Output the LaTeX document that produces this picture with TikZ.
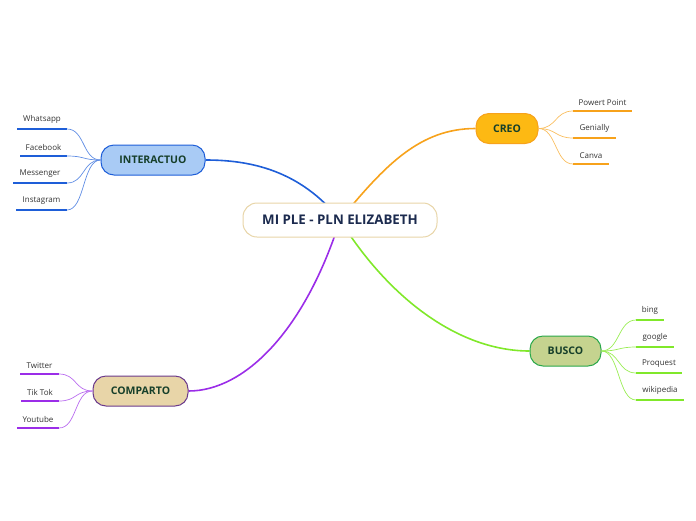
\documentclass[tikz,border=0pt]{standalone}
\usepackage{fontspec}
\setmainfont{Open Sans}
\usetikzlibrary{backgrounds,calc}
\definecolor{cblue}{HTML}{1E5ED8}
\definecolor{cbluefill}{HTML}{A9CBF5}
\definecolor{corange}{HTML}{F7A21B}
\definecolor{corangefill}{HTML}{FDB913}
\definecolor{cgreen}{HTML}{80E82A}
\definecolor{cgreenborder}{HTML}{2BA84A}
\definecolor{cgreenfill}{HTML}{C5D38F}
\definecolor{cpurple}{HTML}{9B2DE8}
\definecolor{cpurpleborder}{HTML}{6B3A8C}
\definecolor{ctanfill}{HTML}{E8D5A8}
\definecolor{ctext}{HTML}{163F2A}
\definecolor{cnavy}{HTML}{1B2A4E}
\definecolor{cleaf}{HTML}{333333}
\tikzset{
  x=1pt, y=-1pt,
  centralbox/.style={draw=ctanfill, fill=white, line width=1pt, rounded corners=14pt,
    minimum width=194pt, minimum height=34pt, font=\fontsize{13.3}{15}\selectfont\bfseries, text=cnavy},
  branchbox/.style={line width=1pt, rounded corners=13pt, minimum height=30pt,
    font=\fontsize{10.5}{13}\selectfont\bfseries, text=ctext},
  leaftext/.style={font=\fontsize{8}{10}\selectfont, text=cleaf, inner sep=1pt},
  mainlink/.style={line width=1.6pt},
  leaflink/.style={line width=0.7pt},
  uline/.style={line width=2pt},
}
\begin{document}
\begin{tikzpicture}
\useasboundingbox (0,0) rectangle (696,520);
% nodes
\node[centralbox] (center) at (340,220) {MI PLE - PLN ELIZABETH};
\node[branchbox, draw=cblue, fill=cbluefill, minimum width=104pt] (inter) at (153,160) {INTERACTUO};
\node[branchbox, draw=corange, fill=corangefill, minimum width=62pt] (creo) at (507,128.5) {CREO};
\node[branchbox, draw=cgreenborder, fill=cgreenfill, minimum width=71pt] (busco) at (565.5,351) {BUSCO};
\node[branchbox, draw=cpurpleborder, fill=ctanfill, minimum width=95pt] (comp) at (140.5,391) {COMPARTO};
% underline coordinates
\coordinate (wa1) at (17,129); \coordinate (wa2) at (67,129);
\coordinate (fb1) at (20,156); \coordinate (fb2) at (67,156);
\coordinate (ms1) at (13,183); \coordinate (ms2) at (67,183);
\coordinate (ig1) at (16,210); \coordinate (ig2) at (67,210);
\coordinate (pp1) at (573,111); \coordinate (pp2) at (632,111);
\coordinate (ge1) at (573,138); \coordinate (ge2) at (616,138);
\coordinate (ca1) at (573,164); \coordinate (ca2) at (609,164);
\coordinate (bi1) at (636,320); \coordinate (bi2) at (664,320);
\coordinate (go1) at (636,347); \coordinate (go2) at (674,347);
\coordinate (pq1) at (636,373); \coordinate (pq2) at (682,373);
\coordinate (wk1) at (636,400); \coordinate (wk2) at (684,400);
\coordinate (tw1) at (20,374); \coordinate (tw2) at (59,374);
\coordinate (tt1) at (21,401); \coordinate (tt2) at (59,401);
\coordinate (yt1) at (17,428); \coordinate (yt2) at (59,428);
% leaf texts
\node[leaftext, anchor=south] (twa) at ($(wa1)!0.5!(wa2)+(0,-4.5)$) {Whatsapp};
\node[leaftext, anchor=south] (tfb) at ($(fb1)!0.5!(fb2)+(0,-4.5)$) {Facebook};
\node[leaftext, anchor=south] (tms) at ($(ms1)!0.5!(ms2)+(0,-4.5)$) {Messenger};
\node[leaftext, anchor=south] (tig) at ($(ig1)!0.5!(ig2)+(0,-4.5)$) {Instagram};
\node[leaftext, anchor=south] (tpp) at ($(pp1)!0.5!(pp2)+(0,-4.5)$) {Powert Point};
\node[leaftext, anchor=south] (tge) at ($(ge1)!0.5!(ge2)+(0,-4.5)$) {Genially};
\node[leaftext, anchor=south] (tca) at ($(ca1)!0.5!(ca2)+(0,-4.5)$) {Canva};
\node[leaftext, anchor=south] (tbi) at ($(bi1)!0.5!(bi2)+(0,-4.5)$) {bing};
\node[leaftext, anchor=south] (tgo) at ($(go1)!0.5!(go2)+(0,-4.5)$) {google};
\node[leaftext, anchor=south] (tpq) at ($(pq1)!0.5!(pq2)+(0,-4.5)$) {Proquest};
\node[leaftext, anchor=south] (twk) at ($(wk1)!0.5!(wk2)+(0,-4.5)$) {wikipedia};
\node[leaftext, anchor=south] (ttw) at ($(tw1)!0.5!(tw2)+(0,-4.5)$) {Twitter};
\node[leaftext, anchor=south] (ttt) at ($(tt1)!0.5!(tt2)+(0,-4.5)$) {Tik Tok};
\node[leaftext, anchor=south] (tyt) at ($(yt1)!0.5!(yt2)+(0,-4.5)$) {Youtube};
% connectors
\begin{pgfonlayer}{background}
\draw[mainlink, cblue] (center.center) .. controls (300,170) and (250,160) .. (inter.east);
\draw[mainlink, corange] (center.center) .. controls (385,165) and (420,128.5) .. (creo.west);
\draw[mainlink, cgreen] (center.center) .. controls (390,300) and (460,351) .. (busco.west);
\draw[mainlink, cpurple] (center.center) .. controls (305,330) and (245,391) .. (comp.east);
\end{pgfonlayer}
% underlines
\draw[uline, cblue] (wa1) -- (wa2); \draw[uline, cblue] (fb1) -- (fb2);
\draw[uline, cblue] (ms1) -- (ms2); \draw[uline, cblue] (ig1) -- (ig2);
\draw[uline, corange] (pp1) -- (pp2); \draw[uline, corange] (ge1) -- (ge2);
\draw[uline, corange] (ca1) -- (ca2);
\draw[uline, cgreen] (bi1) -- (bi2); \draw[uline, cgreen] (go1) -- (go2);
\draw[uline, cgreen] (pq1) -- (pq2); \draw[uline, cgreen] (wk1) -- (wk2);
\draw[uline, cpurple] (tw1) -- (tw2); \draw[uline, cpurple] (tt1) -- (tt2);
\draw[uline, cpurple] (yt1) -- (yt2);
% leaf links
\foreach \u in {wa2,fb2,ms2,ig2}
  \draw[leaflink, cblue!70] (inter.west) .. controls ($(inter.west)+(-18,0)$) and ($(\u)+(18,0)$) .. (\u);
\foreach \u in {pp1,ge1,ca1}
  \draw[leaflink, corange!70] (creo.east) .. controls ($(creo.east)+(18,0)$) and ($(\u)+(-18,0)$) .. (\u);
\foreach \u in {bi1,go1,pq1,wk1}
  \draw[leaflink, cgreen!80] (busco.east) .. controls ($(busco.east)+(18,0)$) and ($(\u)+(-18,0)$) .. (\u);
\foreach \u in {tw2,tt2,yt2}
  \draw[leaflink, cpurple!70] (comp.west) .. controls ($(comp.west)+(-18,0)$) and ($(\u)+(18,0)$) .. (\u);
\end{tikzpicture}
\end{document}
